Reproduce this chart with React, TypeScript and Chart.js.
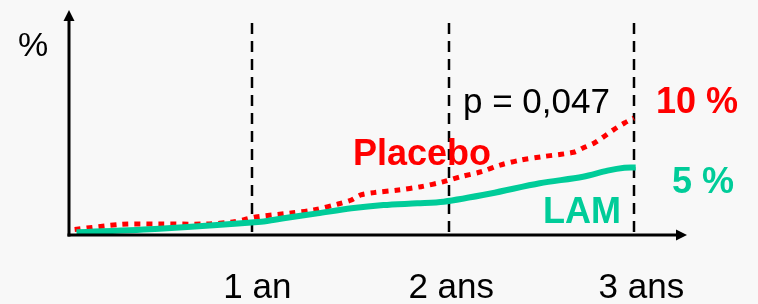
import React, { useEffect, useRef } from "react";
import { Chart, registerables } from "chart.js";

Chart.register(...registerables);

// Placebo (red dotted) — x in years, y in %
const placeboYears = [0.03, 0.28, 0.48, 0.73, 0.87, 0.93, 0.99, 1.18, 1.3, 1.43, 1.5, 1.55, 1.62, 1.75, 1.87, 1.99, 2.08, 2.19, 2.29, 2.4, 2.51, 2.68, 2.73, 2.79, 2.84, 2.89, 2.95, 3.0];
const placeboValues = [0.47, 0.91, 0.94, 0.94, 1.11, 1.31, 1.54, 1.88, 2.14, 2.65, 2.99, 3.42, 3.62, 3.85, 4.13, 4.56, 4.98, 5.41, 5.98, 6.41, 6.69, 7.07, 7.44, 7.86, 8.4, 8.97, 9.57, 10.0];

// LAM (green solid)
const lamYears = [0.04, 0.48, 1.02, 1.14, 1.32, 1.5, 1.67, 1.85, 1.99, 2.24, 2.5, 2.73, 2.86, 2.95, 3.01];
const lamValues = [0.23, 0.54, 1.14, 1.43, 1.85, 2.28, 2.56, 2.71, 2.85, 3.55, 4.42, 4.98, 5.5, 5.75, 5.77];

// Vertical dashed markers and tick labels
const markerYears = [0.97, 2.02, 3.0];
const tickLabels = ["1 an", "2 ans", "3 ans"];
const tickLabelYears = [1.0, 2.03, 3.04];

const seriesNames = ["Placebo", "LAM"];
const endLabels = ["10 %", "5 %"];
const pValueText = "p = 0,047";
const yAxisTitle = "%";

const RED = "#ff0000";
const GREEN = "#00cc99";
const BG = "#f8f8f8";
const FONT = '"Liberation Sans", Arial, sans-serif';

const overlay = {
  id: "overlay",
  beforeDraw(chart: any) {
    const ctx = chart.ctx;
    ctx.save();
    ctx.fillStyle = BG;
    ctx.fillRect(0, 0, chart.width, chart.height);
    ctx.restore();
  },
  beforeDatasetsDraw(chart: any) {
    const ctx = chart.ctx;
    const xs = chart.scales.x;
    const area = chart.chartArea;
    ctx.save();
    ctx.strokeStyle = "#000";
    ctx.lineWidth = 2.5;
    ctx.setLineDash([11, 7]);
    markerYears.forEach((yv) => {
      const px = Math.round(xs.getPixelForValue(yv));
      ctx.beginPath();
      ctx.moveTo(px, 23);
      ctx.lineTo(px, area.bottom);
      ctx.stroke();
    });
    ctx.restore();
  },
  afterDatasetsDraw(chart: any) {
    const ctx = chart.ctx;
    const xs = chart.scales.x;
    const area = chart.chartArea;
    const left = area.left;
    const bottom = area.bottom;
    ctx.save();
    ctx.setLineDash([]);
    ctx.strokeStyle = "#000";
    ctx.fillStyle = "#000";
    ctx.lineWidth = 3;
    // y axis
    ctx.beginPath();
    ctx.moveTo(left, bottom + 1.5);
    ctx.lineTo(left, area.top + 8);
    ctx.stroke();
    ctx.beginPath();
    ctx.moveTo(left, area.top);
    ctx.lineTo(left - 5.5, area.top + 11);
    ctx.lineTo(left + 5.5, area.top + 11);
    ctx.closePath();
    ctx.fill();
    // x axis
    ctx.beginPath();
    ctx.moveTo(left - 1.5, bottom);
    ctx.lineTo(area.right - 8, bottom);
    ctx.stroke();
    ctx.beginPath();
    ctx.moveTo(area.right + 1, bottom);
    ctx.lineTo(area.right - 10, bottom - 5.5);
    ctx.lineTo(area.right - 10, bottom + 5.5);
    ctx.closePath();
    ctx.fill();

    // texts
    ctx.textBaseline = "alphabetic";
    ctx.textAlign = "left";
    ctx.font = `34px ${FONT}`;
    ctx.fillText(yAxisTitle, 18, 56);
    ctx.font = `35px ${FONT}`;
    ctx.fillText(pValueText, 463, 113);
    ctx.textAlign = "center";
    tickLabels.forEach((t, i) => {
      ctx.fillText(t, xs.getPixelForValue(tickLabelYears[i]), 298);
    });
    ctx.textAlign = "left";
    ctx.font = `bold 36px ${FONT}`;
    ctx.fillStyle = RED;
    ctx.fillText(endLabels[0], 656, 113);
    ctx.fillText(seriesNames[0], 353, 165);
    ctx.fillStyle = GREEN;
    ctx.fillText(endLabels[1], 672, 193);
    ctx.fillText(seriesNames[1], 543, 223);
    ctx.restore();
  },
};

export default function App() {
  const ref = useRef<HTMLCanvasElement | null>(null);
  useEffect(() => {
    if (!ref.current) return;
    const chart = new Chart(ref.current, {
      type: "line",
      data: {
        datasets: [
          {
            label: seriesNames[1],
            data: lamYears.map((x, i) => ({ x, y: lamValues[i] })),
            borderColor: GREEN,
            borderWidth: 6,
            pointRadius: 0,
            tension: 0.3,
            fill: false,
            borderCapStyle: "butt",
          },
          {
            label: seriesNames[0],
            data: placeboYears.map((x, i) => ({ x, y: placeboValues[i] })),
            borderColor: RED,
            borderWidth: 5,
            borderDash: [6, 6],
            pointRadius: 0,
            tension: 0.3,
            fill: false,
            borderCapStyle: "butt",
          },
        ],
      },
      options: {
        animation: false,
        responsive: false,
        maintainAspectRatio: false,
        devicePixelRatio: 1,
        layout: { padding: { left: 69, right: 72, top: 10, bottom: 69 } },
        plugins: { legend: { display: false }, tooltip: { enabled: false } },
        scales: {
          x: { type: "linear", min: 0, max: 3.277, display: false },
          y: { type: "linear", min: 0, max: 19.23, display: false },
        },
      },
      plugins: [overlay],
    });
    return () => chart.destroy();
  }, []);
  return (
    <div style={{ position: "fixed", left: 0, top: 0, width: 758, height: 304, background: BG }}>
      <canvas ref={ref} width={758} height={304} style={{ display: "block", width: 758, height: 304 }} />
    </div>
  );
}
